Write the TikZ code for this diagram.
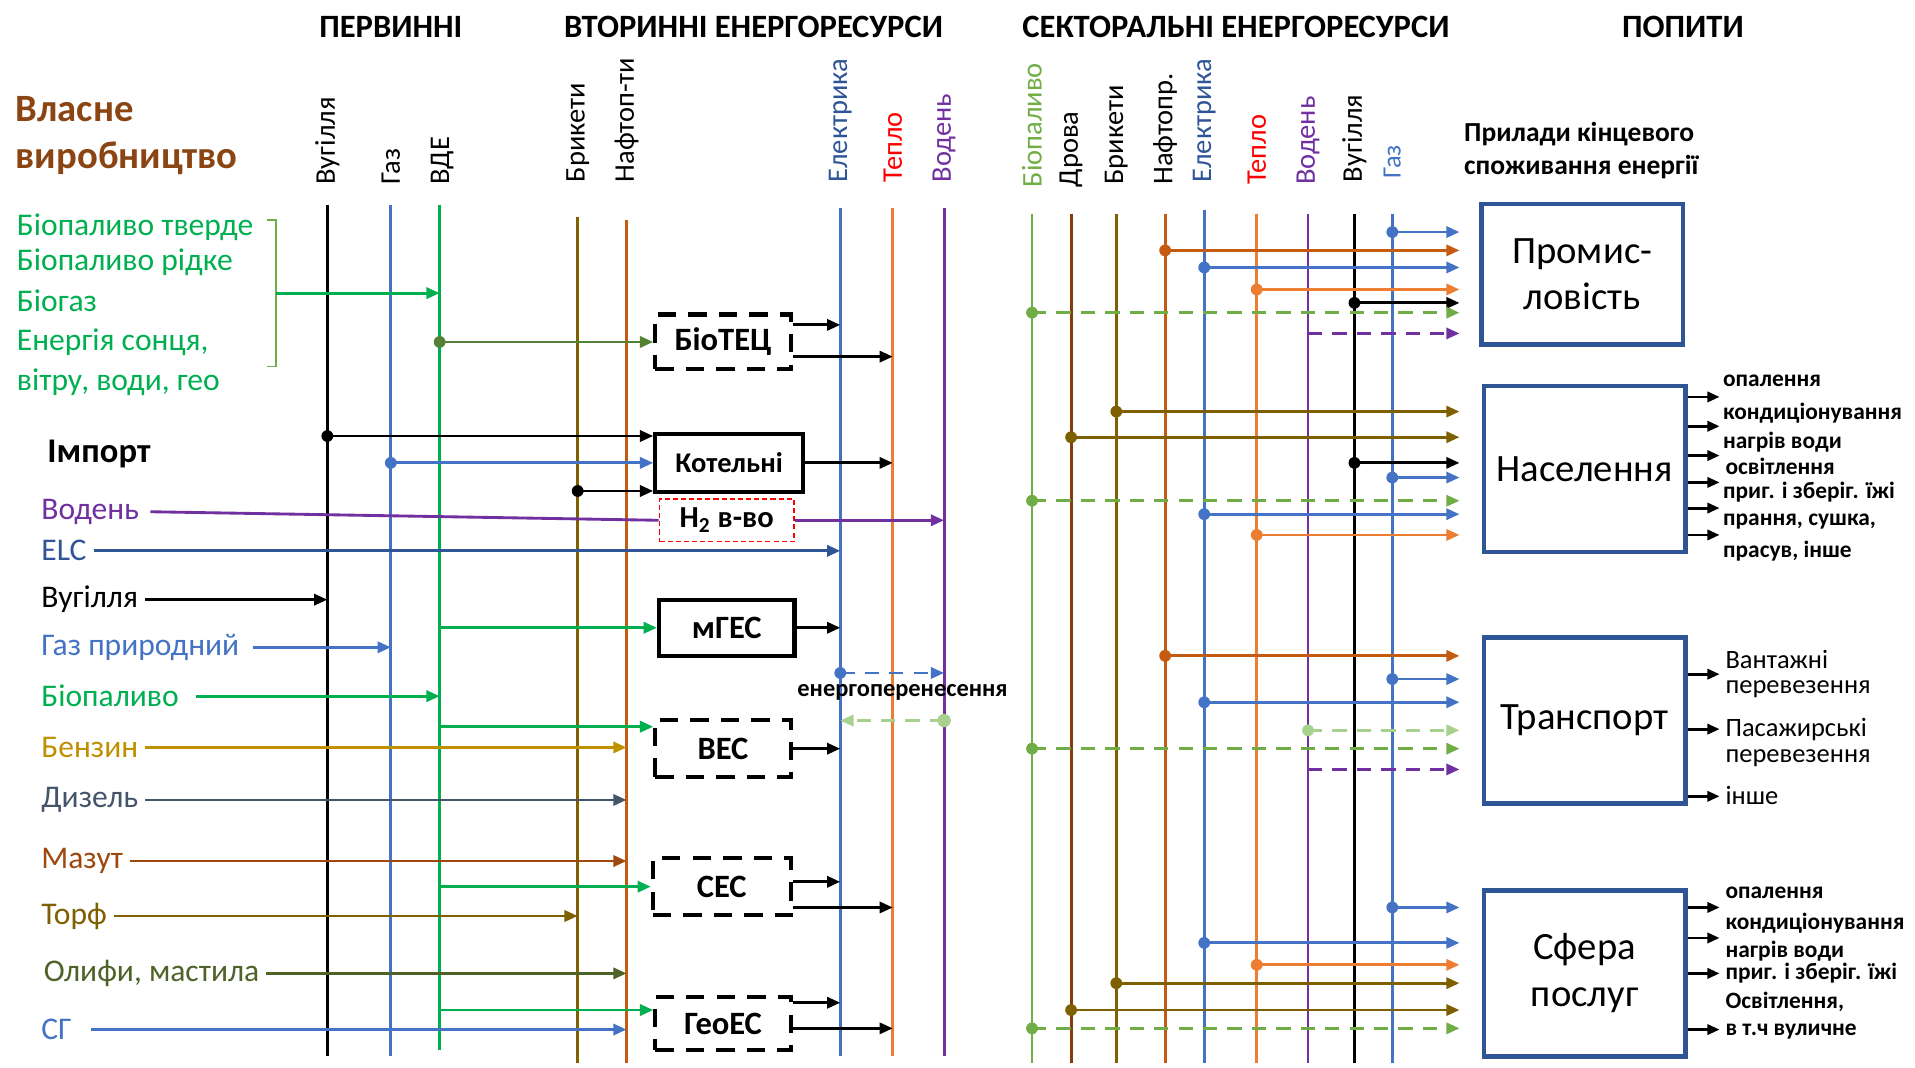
\documentclass[tikz,border=0pt]{standalone}
\usepackage{fontspec}
\setmainfont{Carlito}
\usetikzlibrary{arrows.meta,calc}
\definecolor{cGas}{HTML}{4472C4}
\definecolor{cVde}{HTML}{00B050}
\definecolor{cOl}{HTML}{7F6000}
\definecolor{cNaf}{HTML}{C55A11}
\definecolor{cOr}{HTML}{ED7D31}
\definecolor{cPur}{HTML}{7030A0}
\definecolor{cBio}{HTML}{70AD47}
\definecolor{cLg}{HTML}{A9D18E}
\definecolor{cElc}{HTML}{2F5597}
\definecolor{cBox}{HTML}{2F5597}
\definecolor{cBr}{HTML}{843C0C}
\definecolor{cOwn}{HTML}{8B4513}
\definecolor{cBenz}{HTML}{BF9000}
\definecolor{cDyz}{HTML}{44546A}
\definecolor{cMaz}{HTML}{9E480E}
\definecolor{cOly}{HTML}{4F6228}
\definecolor{cBt}{HTML}{548235}
\definecolor{cRed}{HTML}{FF0000}
\newcommand{\myconn}[4]{\fill[#1] (#2 |- 0,#3) circle (2.9pt); \draw[ar,#1] (#2 |- 0,#3) -- (#4 |- 0,#3);}
\newcommand{\mydash}[4]{\fill[#1] (#2 |- 0,#3) circle (2.9pt); \draw[ar,dl,#1] (#2 |- 0,#3) -- (#4 |- 0,#3);}
\newcommand{\mydashnd}[4]{\draw[ar,dl,#1] (#2 |- 0,#3) -- (#4 |- 0,#3);}
\begin{document}
\begin{tikzpicture}[x=0.6pt,y=-0.6pt,
  vl/.style={line width=1.4pt},
  ar/.style={line width=1.4pt,-{Triangle[length=6.5pt,width=5.5pt]}},
  dl/.style={dash pattern=on 7pt off 5pt},
  lab/.style={rotate=90,anchor=west,font=\fontsize{14}{16}\selectfont},
  hdr/.style={font=\bfseries\fontsize{16}{19}\selectfont},
  src/.style={anchor=west,font=\fontsize{15.5}{18}\selectfont},
  pbox/.style={draw,line width=2pt,font=\bfseries\fontsize{16}{18}\selectfont,inner sep=0pt},
  pdash/.style={pbox,dash pattern=on 9pt off 6pt},
  cbox/.style={draw=cBox,line width=2.2pt,minimum width=99pt,minimum height=81.6pt,align=center,font=\fontsize{19}{23}\selectfont},
  outl/.style={anchor=west,font=\bfseries\fontsize{11.5}{14}\selectfont},
  outr/.style={anchor=west,font=\fontsize{13}{15}\selectfont},
  oar/.style={line width=1.4pt,-{Triangle[length=6pt,width=5pt]}}
]
\useasboundingbox (0,0) rectangle (1568,874);
\fill[white] (0,0) rectangle (1568,874);

% headers
\node[hdr] (h1) at (320,22) {ПЕРВИННІ};
\node[hdr] (h2t) at (617,22) {ВТОРИННІ ЕНЕРГОРЕСУРСИ};
\node[hdr] (h3) at (1012,22) {СЕКТОРАЛЬНІ ЕНЕРГОРЕСУРСИ};
\node[hdr] (h4) at (1378,22) {ПОПИТИ};

% vertical lines
\coordinate (vug) at (268,168); \draw[vl,black] (vug) -- (268,865);
\coordinate (gaz) at (320,168); \draw[vl,cGas] (gaz) -- (320,865);
\coordinate (vde) at (360,168); \draw[vl,cVde] (vde) -- (360,860);
\coordinate (bri) at (473,178); \draw[vl,cOl] (bri) -- (473,870);
\coordinate (naf) at (513,180); \draw[vl,cNaf] (naf) -- (513,870);
\coordinate (ele) at (688,170); \draw[vl,cGas] (ele) -- (688,865);
\coordinate (tep) at (731,170); \draw[vl,cOr] (tep) -- (731,865);
\coordinate (vod) at (773,170); \draw[vl,cPur] (vod) -- (773,865);
\coordinate (sbio) at (845,175); \draw[vl,cBio] (sbio) -- (845,870);
\coordinate (sdro) at (877,175); \draw[vl,cBr] (sdro) -- (877,870);
\coordinate (sbri) at (914,175); \draw[vl,cOl] (sbri) -- (914,870);
\coordinate (snaf) at (954,175); \draw[vl,cNaf] (snaf) -- (954,870);
\coordinate (sele) at (986,172); \draw[vl,cGas] (sele) -- (986,870);
\coordinate (stp) at (1029,175); \draw[vl,cOr] (stp) -- (1029,870);
\coordinate (svod) at (1071,175); \draw[vl,cPur] (svod) -- (1071,870);
\coordinate (svug) at (1109,175); \draw[vl,black] (svug) -- (1109,870);
\coordinate (sgaz) at (1140,175); \draw[vl,cGas] (sgaz) -- (1140,870);

% line labels
\node[lab] (lvug) at (268,157) {Вугілля};
\node[lab] (lgaz) at (320,157) {Газ};
\node[lab] (lvde) at (362,157) {ВДЕ};
\node[lab] (lbri) at (473,155) {Брикети};
\node[lab] (lnaf) at (513,155) {Нафтоп-ти};
\node[lab,text=cElc] (lele) at (688,155) {Електрика};
\node[lab,text=cRed] (ltep) at (731,155) {Тепло};
\node[lab,text=cPur] (lvod) at (773,155) {Водень};
\node[lab,text=cBio] (lsbio) at (845,159) {Біопаливо};
\node[lab] (lsdro) at (877,159) {Дрова};
\node[lab] (lsbri) at (914,157) {Брикети};
\node[lab] (lsnaf) at (954,157) {Нафтопр.};
\node[lab,text=cElc] (lsele) at (986,155) {Електрика};
\node[lab,text=cRed] (lstp) at (1029,157) {Тепло};
\node[lab,text=cPur] (lsvod) at (1071,157) {Водень};
\node[lab] (lsvug) at (1109,155) {Вугілля};
\node[lab,text=cGas,font=\fontsize{13}{15}\selectfont] (lsgaz) at (1140,152) {Газ};

% own production
\node[anchor=west,text=cOwn,font=\bfseries\fontsize{19}{23}\selectfont,align=left] (own) at (7,111) {Власне\\виробництво};
\node[src,text=cVde] (g1) at (8,186) {Біопаливо тверде};
\node[src,text=cVde] (g2) at (8,215) {Біопаливо рідке};
\node[src,text=cVde] (g3) at (8,246) {Біогаз};
\node[src,text=cVde] (g4) at (8,280) {Енергія сонця,};
\node[src,text=cVde] (g5) at (8,313) {вітру, води, гео};
\draw[cBio,line width=0.8pt] (219,180) -- (226,180) -- (226,300) -- (219,300);
\coordinate (brk) at (226,240);
\draw[ar,cVde] (brk) -- (vde |- brk);

% import
\node[anchor=west,font=\bfseries\fontsize{17}{20}\selectfont] (imp) at (33,372) {Імпорт};
\node[src,text=cPur] (iVod) at (28,419) {Водень};
\node[src,text=cElc] (iElc) at (28,451) {ELC};
\node[src] (iVug) at (28,491) {Вугілля};
\node[src,text=cGas] (iGaz) at (28,530) {Газ природний};
\node[src,text=cVde] (iBio) at (28,570) {Біопаливо};
\node[src,text=cBenz] (iBen) at (28,612) {Бензин};
\node[src,text=cDyz] (iDyz) at (28,655) {Дизель};
\node[src,text=cMaz] (iMaz) at (28,705) {Мазут};
\node[src,text=cOl] (iTor) at (28,750) {Торф};
\node[src,text=cOly] (iOly) at (30,797) {Олифи, мастила};
\node[src,text=cGas] (iSg) at (28,843) {СГ};

% process boxes
\node[pdash,minimum width=66.6pt,minimum height=27pt] (biotec) at (592,280) {БіоТЕЦ};
\node[pbox,minimum width=72.6pt,minimum height=28.8pt,font=\bfseries\fontsize{14}{16}\selectfont] (kot) at (597,379) {Котельні};
\node[draw=cRed,dash pattern=on 2.5pt off 1.5pt,line width=0.8pt,minimum width=66pt,minimum height=21pt,inner sep=0pt,font=\bfseries\fontsize{15}{17}\selectfont] (h2) at (595,426) {H\textsubscript{2} в-во};
\node[pbox,minimum width=66.6pt,minimum height=27.6pt] (mges) at (595,514) {мГЕС};
\node[pdash,minimum width=66.6pt,minimum height=28pt] (ves) at (592,613) {ВЕС};
\node[pdash,minimum width=67.8pt,minimum height=28pt] (ses) at (591,726) {СЕС};
\node[pdash,minimum width=66.6pt,minimum height=26pt] (geo) at (592,838) {ГеоЕС};

% import arrows
\draw[vl,cPur] ([xshift=2pt]iVod.east) -- (h2.west);
\draw[ar,cPur] (h2.east) -- (vod |- h2.east);
\draw[ar,cElc] (iElc.east) -- (ele |- iElc.east);
\draw[ar,black] (iVug.east) -- (vug |- iVug.east);
\draw[ar,cGas] ([xshift=3pt]iGaz.east) -- (gaz |- iGaz.east);
\draw[ar,cVde] ([xshift=5pt]iBio.east) -- (vde |- iBio.east);
\draw[ar,cBenz] (iBen.east) -- (naf |- iBen.east);
\draw[ar,cDyz] (iDyz.east) -- (naf |- iDyz.east);
\draw[ar,cMaz] (iMaz.east) -- (naf |- iMaz.east);
\draw[ar,cOl] (iTor.east) -- (bri |- iTor.east);
\draw[ar,cOly] (iOly.east) -- (naf |- iOly.east);
\draw[ar,cGas] ([xshift=6pt]iSg.east) -- (naf |- iSg.east);

% secondary conversions
\fill[cBt] (vde |- biotec.west) circle (2.9pt);
\draw[ar,cBt] (vde |- biotec.west) -- (biotec.west);
\draw[ar] (biotec.east |- 0,266) -- (ele |- 0,266);
\draw[ar] (biotec.east |- 0,292) -- (tep |- 0,292);
\myconn{black}{vug}{357}{kot.west}
\myconn{cGas}{gaz}{379}{kot.west}
\myconn{black}{bri}{402}{kot.west}
\draw[ar] (kot.east) -- (tep |- kot.east);
\draw[ar,cVde] (vde |- mges.west) -- (mges.west);
\draw[ar] (mges.east) -- (ele |- mges.east);
\mydash{cGas}{ele}{551}{vod}
\node[font=\bfseries\fontsize{12}{14}\selectfont] (enp) at (739,567) {енергоперенесення};
\fill[cLg] (vod |- 0,590) circle (3.3pt);
\draw[ar,dl,cLg] (vod |- 0,590) -- (ele |- 0,590);
\draw[ar,cVde] (vde |- 0,595) -- (ves.west |- 0,595);
\draw[ar] (ves.east) -- (ele |- ves.east);
\draw[ar,cVde] (vde |- 0,726) -- (ses.west |- 0,726);
\draw[ar] (ses.east |- 0,722) -- (ele |- 0,722);
\draw[ar] (ses.east |- 0,743) -- (tep |- 0,743);
\draw[ar,cVde] (vde |- 0,827) -- (geo.west |- 0,827);
\draw[ar] (geo.east |- 0,821) -- (ele |- 0,821);
\draw[ar] (geo.east |- 0,842) -- (tep |- 0,842);

% demand
\node[anchor=west,align=left,font=\bfseries\fontsize{13.5}{16.2}\selectfont] (pril) at (1193,123) {Прилади кінцевого\\споживання енергії};
\node[cbox,minimum height=69pt] (prom) at (1295.5,224.5) {Промис-\\ловість};
\node[cbox] (nas) at (1297.5,384) {Населення};
\node[cbox] (trn) at (1297.5,590) {Транспорт};
\node[cbox] (sfe) at (1297.5,797) {Сфера\\послуг};
\coordinate (ent) at (1195,0);

% industry
\myconn{cGas}{sgaz}{190}{ent}
\myconn{cNaf}{snaf}{205}{ent}
\myconn{cGas}{sele}{219}{ent}
\myconn{cOr}{stp}{237}{ent}
\myconn{black}{svug}{248}{ent}
\mydash{cBio}{sbio}{256}{ent}
\mydashnd{cPur}{svod}{273}{ent}
% households
\myconn{cOl}{sbri}{337}{ent}
\myconn{cOl}{sdro}{358}{ent}
\myconn{black}{svug}{379}{ent}
\myconn{cGas}{sgaz}{391}{ent}
\mydash{cBio}{sbio}{410}{ent}
\myconn{cGas}{sele}{421}{ent}
\myconn{cOr}{stp}{438}{ent}
% transport
\myconn{cNaf}{snaf}{537}{ent}
\myconn{cGas}{sgaz}{556}{ent}
\myconn{cGas}{sele}{575}{ent}
\mydash{cLg}{svod}{598}{ent}
\mydash{cBio}{sbio}{613}{ent}
\mydashnd{cPur}{svod}{630}{ent}
% services
\myconn{cGas}{sgaz}{743}{ent}
\myconn{cGas}{sele}{772}{ent}
\myconn{cOr}{stp}{790}{ent}
\myconn{cOl}{sbri}{805}{ent}
\myconn{cOl}{sdro}{827}{ent}
\mydash{cBio}{sbio}{842}{ent}

% outputs
\coordinate (oend) at (1408,0);
\foreach \yy in {325,349,373,395,416,438} {\draw[oar] (nas.east |- 0,\yy) -- (oend |- 0,\yy);}
\node[outl] (n1) at (1405,312) {опалення};
\node[outl] (n2) at (1405,338) {кондиціонування};
\node[outl] (n3) at (1405,362) {нагрів води};
\node[outl] (n4) at (1407,382) {освітлення};
\node[outl] (n5) at (1405,403) {приг. і зберіг. їжі};
\node[outl] (n6) at (1405,427) {прання, сушка,};
\node[outl] (n7) at (1405,451) {прасув, інше};
\foreach \yy in {552,597,652} {\draw[oar] (trn.east |- 0,\yy) -- (oend |- 0,\yy);}
\node[outr] (t1) at (1407,540) {Вантажні};
\node[outr] (t2) at (1407,564) {перевезення};
\node[outr] (t3) at (1407,597) {Пасажирські};
\node[outr] (t4) at (1407,621) {перевезення};
\node[outr] (t5) at (1407,651) {інше};
\foreach \yy in {743,768,797,843} {\draw[oar] (sfe.east |- 0,\yy) -- (oend |- 0,\yy);}
\node[outl] (s1) at (1407,731) {опалення};
\node[outl] (s2) at (1407,756) {кондиціонування};
\node[outl] (s3) at (1407,779) {нагрів води};
\node[outl] (s4) at (1407,797) {приг. і зберіг. їжі};
\node[outl] (s5) at (1407,820) {Освітлення,};
\node[outl] (s6) at (1407,845) {в т.ч вуличне};
\end{tikzpicture}
\end{document}
